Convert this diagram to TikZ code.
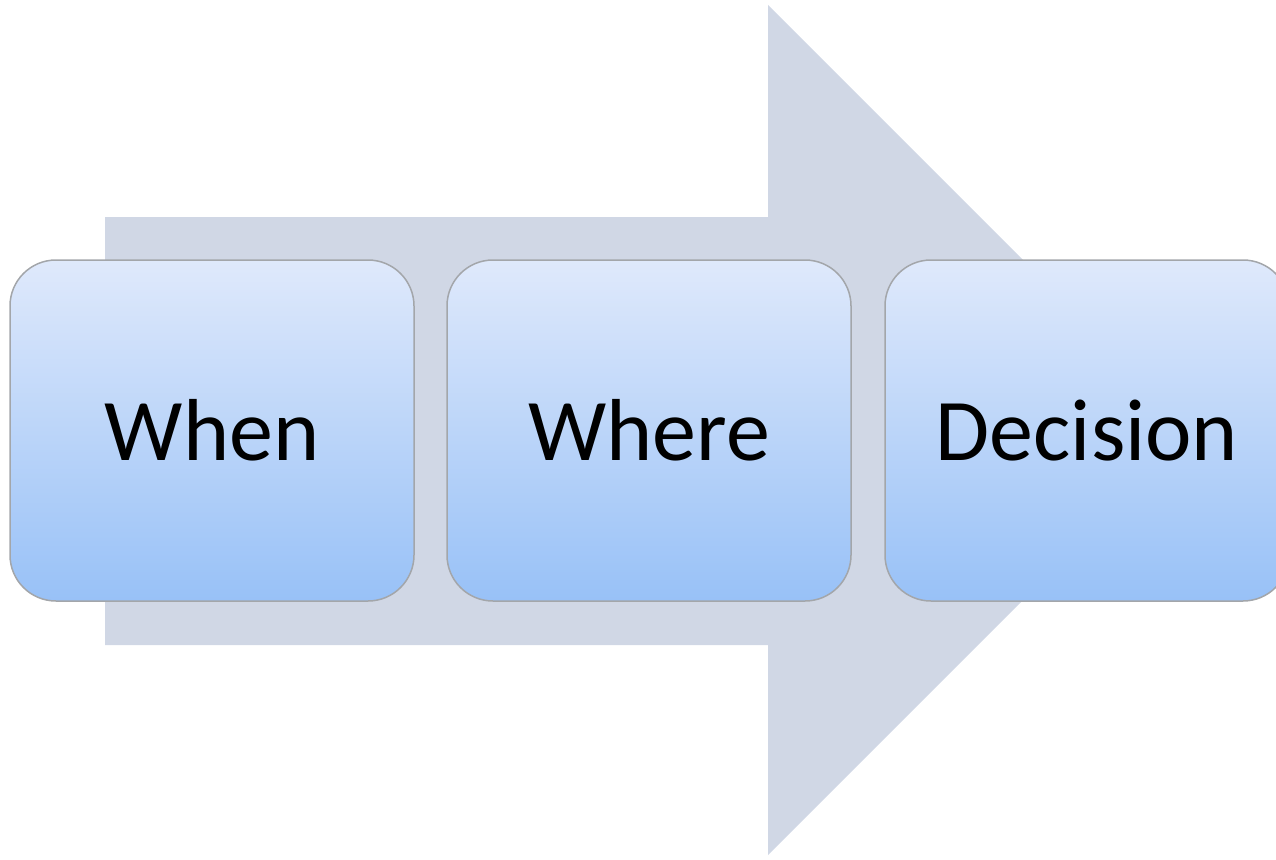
\documentclass[tikz,border=0pt]{standalone}
\usepackage{fontspec}
\setmainfont{Carlito}
\definecolor{arrowgray}{HTML}{D0D7E5}
\definecolor{boxtop}{HTML}{DFE9FB}
\definecolor{boxbot}{HTML}{98C1F7}
\definecolor{boxline}{HTML}{A3A6AA}
\begin{document}
\begin{tikzpicture}[x=1pt,y=-1pt,
  stepbox/.style={draw=boxline, line width=1.5pt, rounded corners=46pt,
    top color=boxtop, bottom color=boxbot,
    minimum width=404pt, minimum height=341pt, inner sep=0pt,
    font=\fontsize{88}{100}\selectfont, text=black}]
\useasboundingbox (0,0) rectangle (1276,859);
\clip (0,0) rectangle (1276,859);
\fill[arrowgray] (105,217) -- (768,217) -- (768,5) -- (1193,430) -- (768,855) -- (768,645) -- (105,645) -- cycle;
\node[stepbox] (when) at (212,430.5) {When};
\node[stepbox] (where) at (649,430.5) {Where};
\node[stepbox] (decision) at (1087,430.5) {Decision};
\end{tikzpicture}
\end{document}
